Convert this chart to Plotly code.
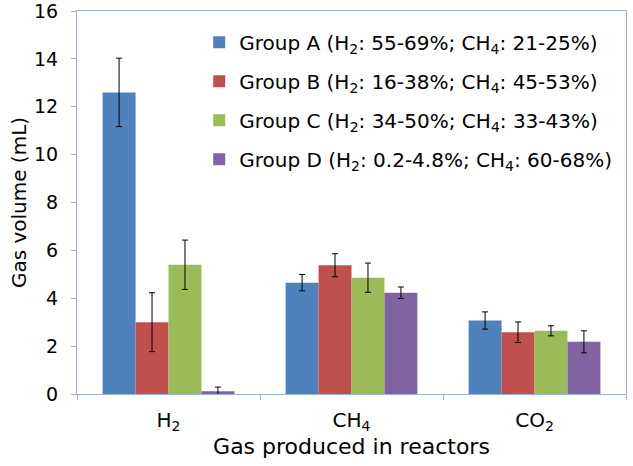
import plotly.graph_objects as go

categories = ["H<sub>2</sub>", "CH<sub>4</sub>", "CO<sub>2</sub>"]
group_names = [
    "Group A (H<sub>2</sub>: 55-69%; CH<sub>4</sub>: 21-25%)",
    "Group B (H<sub>2</sub>: 16-38%; CH<sub>4</sub>: 45-53%)",
    "Group C (H<sub>2</sub>: 34-50%; CH<sub>4</sub>: 33-43%)",
    "Group D (H<sub>2</sub>: 0.2-4.8%; CH<sub>4</sub>: 60-68%)",
]
group_a = [12.6, 4.65, 3.07]
group_b = [3.0, 5.38, 2.58]
group_c = [5.4, 4.86, 2.64]
group_d = [0.12, 4.23, 2.18]
err_a = [1.43, 0.34, 0.36]
err_b = [1.23, 0.48, 0.43]
err_c = [1.03, 0.61, 0.21]
err_d = [0.17, 0.24, 0.46]
colors = ["#4F81BD", "#C0504D", "#9BBB59", "#8064A2"]

values = [group_a, group_b, group_c, group_d]
errors = [err_a, err_b, err_c, err_d]

fig = go.Figure()
for i in range(4):
    fig.add_trace(go.Bar(
        x=categories, y=values[i], name=group_names[i],
        marker=dict(color=colors[i], line=dict(width=0)),
        legendgroup=f"g{i}",
        error_y=dict(type="data", array=errors[i], visible=True,
                     color="black", thickness=1, width=3),
    ))

axis_line = "#9DB2D2"
fig.update_layout(
    width=633, height=466,
    margin=dict(l=77, r=7, t=11, b=72, autoexpand=False),
    paper_bgcolor="white", plot_bgcolor="white",
    barmode="group", bargap=0.28, bargroupgap=0,
    font=dict(family="DejaVu Sans, Liberation Sans, sans-serif", color="black"),
    showlegend=True,
    legend=dict(x=0.2226, y=0.969, xanchor="left", yanchor="top",
                font=dict(size=20), tracegroupgap=10,
                bgcolor="rgba(0,0,0,0)"),
    xaxis=dict(
        automargin=False,
        showline=True, linecolor=axis_line, linewidth=1, mirror=True,
        ticks="outside", tickson="boundaries", ticklen=5, tickcolor=axis_line,
        tickfont=dict(size=20), ticklabelstandoff=8,
        title=dict(text="Gas produced in reactors", font=dict(size=22), standoff=2),
        showgrid=False,
    ),
    yaxis=dict(
        automargin=False,
        range=[0, 16], dtick=2,
        showline=True, linecolor=axis_line, linewidth=1, mirror=True,
        ticks="outside", ticklen=5, tickcolor=axis_line,
        tickfont=dict(size=19), ticklabelstandoff=9, ticklabeloverflow="allow",
        title=dict(text="Gas volume (mL)", font=dict(size=20), standoff=2),
        showgrid=False, zeroline=False,
    ),
)

fig.write_html("out.html", config={"displayModeBar": False},
               post_script="document.body.style.margin='0';")
